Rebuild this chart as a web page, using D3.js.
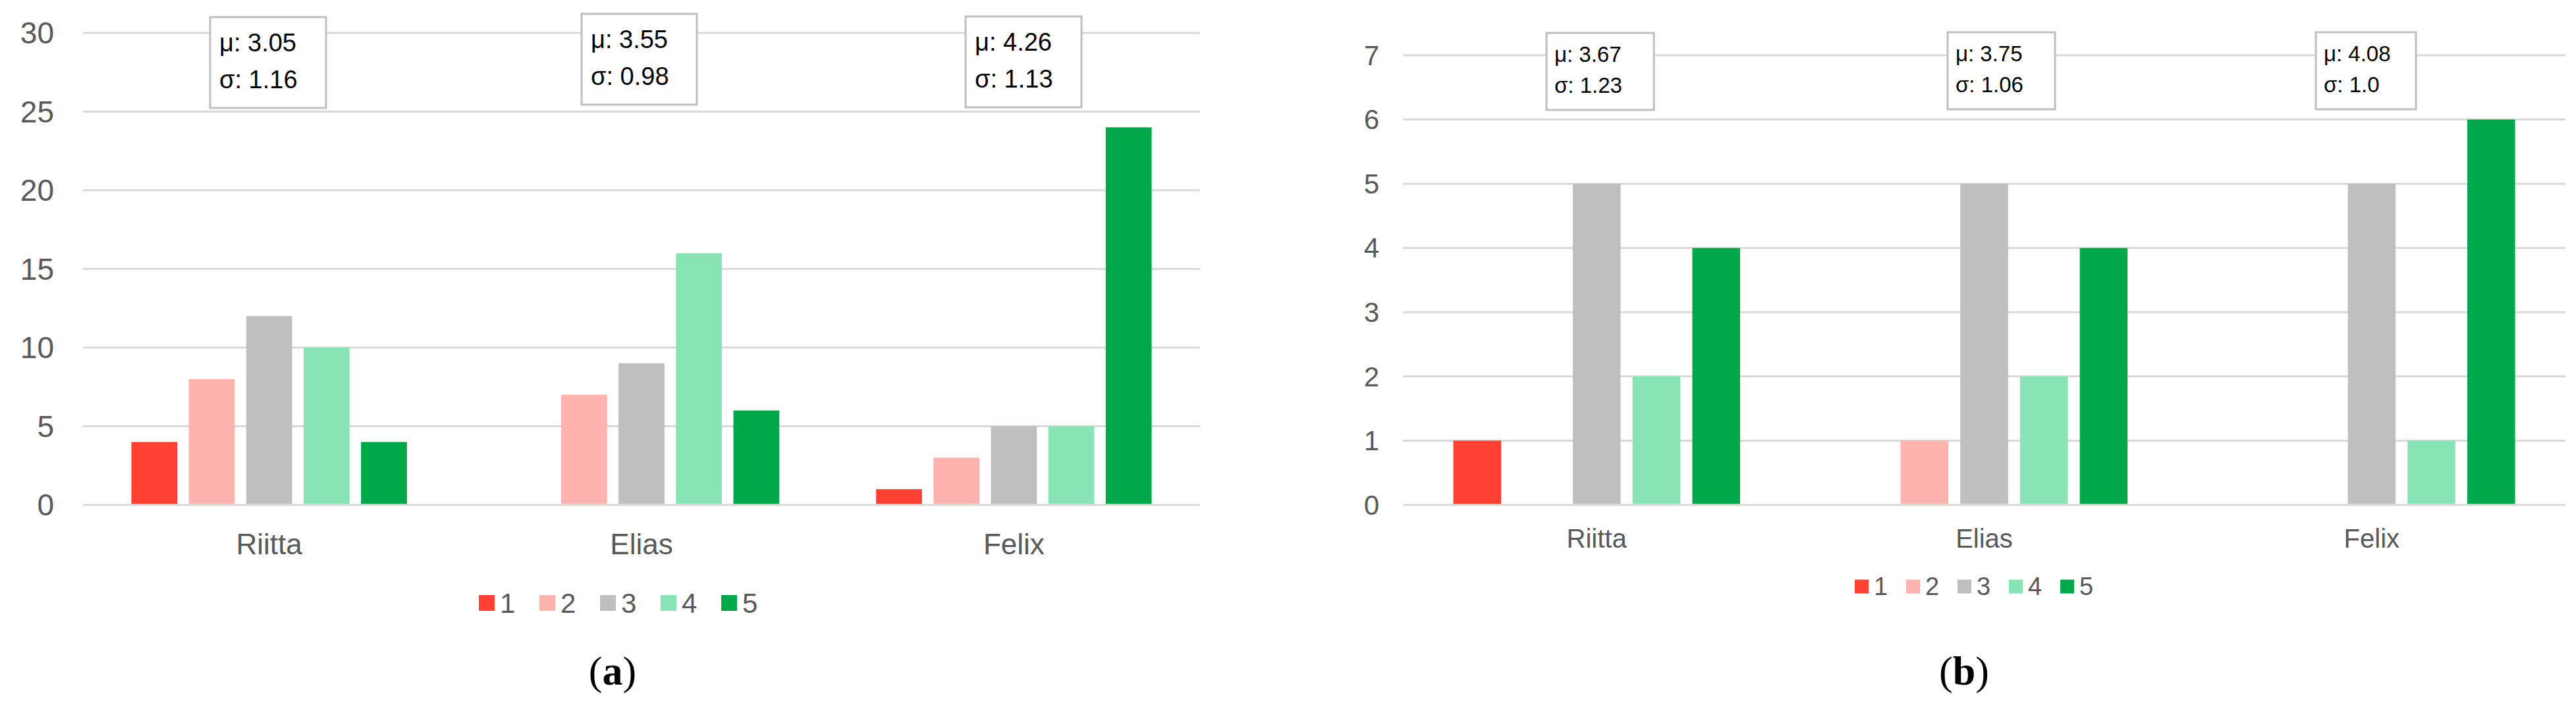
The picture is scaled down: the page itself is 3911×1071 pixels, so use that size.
<!DOCTYPE html>
<html><head><meta charset="utf-8">
<script src="https://cdn.jsdelivr.net/npm/d3@7"></script>
<style>body{margin:0;background:#fff}svg{display:block}</style>
</head><body>
<svg id="c" width="3911" height="1071"></svg>
<script>
const categories = ["Riitta","Elias","Felix"];
const seriesNames = ["1","2","3","4","5"];
const colors = ["#FF4133","#FFB3AE","#BFBFBF","#88E4B4","#00A84A"];
const valuesA = [[4,8,12,10,4],[0,7,9,16,6],[1,3,5,5,24]];
const valuesB = [[1,0,5,2,4],[0,1,5,2,4],[0,0,5,1,6]];
const statsA = [["μ: 3.05","σ: 1.16"],["μ: 3.55","σ: 0.98"],["μ: 4.26","σ: 1.13"]];
const statsB = [["μ: 3.67","σ: 1.23"],["μ: 3.75","σ: 1.06"],["μ: 4.08","σ: 1.0"]];
const ticksA = [0,5,10,15,20,25,30];
const ticksB = [0,1,2,3,4,5,6,7];

const svg = d3.select("#c");
const F = "Arial, 'Liberation Sans', sans-serif";

function chart(o){
  const g = svg.append("g");
  const y = d3.scaleLinear().domain([0,o.max]).range([767,o.top]);
  const x0 = d3.scaleBand().domain(categories).range([o.x1,o.x2]).paddingInner(o.pad).paddingOuter(o.pad/2);
  const x1 = d3.scaleBand().domain(seriesNames).range([0,x0.bandwidth()]).paddingInner(0.2);
  g.selectAll(".grid").data(o.ticks).join("line")
    .attr("x1",o.x1).attr("x2",o.x2).attr("y1",d=>y(d)).attr("y2",d=>y(d))
    .attr("stroke","#d9d9d9").attr("stroke-width",3);
  g.selectAll(".tl").data(o.ticks).join("text")
    .attr("x",o.tickX).attr("y",d=>y(d)).attr("dy","0.35em").attr("text-anchor","end")
    .attr("font-family",F).attr("font-size",o.tickFs).attr("fill","#595959").text(d=>d);
  categories.forEach((c,i)=>{
    const gg = g.append("g").attr("transform",`translate(${x0(c)},0)`);
    gg.selectAll("rect").data(o.values[i].map((v,j)=>({v,j}))).join("rect")
      .attr("x",d=>x1(seriesNames[d.j])).attr("width",x1.bandwidth())
      .attr("y",d=>y(d.v)).attr("height",d=>y(0)-y(d.v)-1.5).attr("fill",d=>colors[d.j]);
    const cx = x0(c)+x0.bandwidth()/2;
    g.append("text").attr("x",cx).attr("y",o.catY).attr("text-anchor","middle")
      .attr("font-family",F).attr("font-size",o.catFs).attr("fill","#595959").text(c);
    const b = o.boxes[i];
    g.append("rect").attr("x",b[0]).attr("y",b[1]).attr("width",b[2]).attr("height",b[3])
      .attr("fill","#fff").attr("stroke","#bfbfbf").attr("stroke-width",3);
    o.stats[i].forEach((s,k)=>{
      g.append("text").attr("x",b[0]+o.stX).attr("y",b[1]+b[3]*(k==0?0.38:0.78)).attr("font-family",F)
        .attr("font-size",o.stFs).attr("fill","#000").text(s);
    });
  });
  // legend
  const lg = g.append("g");
  seriesNames.forEach((s,j)=>{
    const lx = o.legX + j*o.legStep;
    lg.append("rect").attr("x",lx).attr("y",o.legY-o.legSq/2).attr("width",o.legSq).attr("height",o.legSq).attr("fill",colors[j]);
    lg.append("text").attr("x",lx+o.legSq+8).attr("y",o.legY).attr("dy","0.35em")
      .attr("font-family",F).attr("font-size",o.legFs).attr("fill","#595959").text(s);
  });
  const cap = svg.append("text").attr("x",o.capX).attr("y",1040).attr("text-anchor","middle")
    .attr("font-family","'Liberation Serif','DejaVu Serif',serif").attr("font-size",62).attr("fill","#000");
  cap.append("tspan").text("(");
  cap.append("tspan").attr("font-weight","bold").text(o.cap);
  cap.append("tspan").text(")");
}

chart({values:valuesA,stats:statsA,ticks:ticksA,max:30,top:50,x1:126,x2:1822,pad:0.26,
  tickX:82,tickFs:46,catY:842,catFs:44,
  boxes:[[319,26,176,138],[883,21,175,138],[1466,25,176,138]],stX:14,stFs:38,
  legX:727,legStep:92,legY:916,legSq:24,legFs:42,capX:930,cap:"a"});
chart({values:valuesB,stats:statsB,ticks:ticksB,max:7,top:84,x1:2130,x2:3895,pad:0.26,
  tickX:2094,tickFs:42,catY:832,catFs:40,
  boxes:[[2348,50,163,117],[2957,49,163,117],[3516,49,152,117]],stX:12,stFs:33,
  legX:2816,legStep:78,legY:891,legSq:21,legFs:38,capX:2982,cap:"b"});
</script>
</body></html>
